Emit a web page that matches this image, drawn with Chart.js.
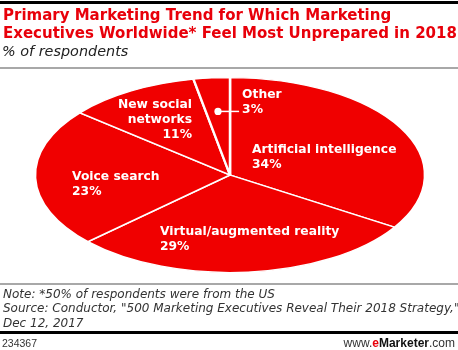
<!DOCTYPE html>
<html>
<head>
<meta charset="utf-8">
<script src="https://cdn.jsdelivr.net/npm/chart.js@4.4.1/dist/chart.umd.min.js"></script>
<style>
    html, body { margin: 0; padding: 0; background: #fff; }
    .frame { position: relative; width: 458px; height: 350px; overflow: hidden; font-family: "DejaVu Sans", sans-serif; }
    .frame canvas { position: absolute; left: 0; top: 0; }
    .bar-top { position: absolute; left: 0; top: 1px; width: 458px; height: 3px; background: #000; }
    .title { position: absolute; left: 3px; top: 7px; font-weight: bold; font-size: 15px; line-height: 17.5px; color: #e8000a; white-space: nowrap; }
    .subtitle { position: absolute; left: 2px; top: 43px; font-style: italic; font-size: 14.4px; line-height: 17px; color: #222; white-space: nowrap; }
    .rule { position: absolute; left: 0; width: 458px; height: 2px; background: #a8a8a8; }
    .note { position: absolute; left: 3px; top: 287px; font-style: italic; font-size: 12px; line-height: 14.3px; color: #333; white-space: nowrap; }
    .bar-bottom { position: absolute; left: 0; top: 331px; width: 458px; height: 3px; background: #000; }
    .chart-id { position: absolute; left: 2px; top: 337px; font-family: "Liberation Sans", sans-serif; font-size: 10.5px; color: #333; }
    .brand { position: absolute; right: 3px; top: 336px; font-family: "Liberation Sans", sans-serif; font-size: 12px; color: #333; }
    .brand b { color: #111; }
    .brand .e { color: #e8000a; }
</style>
</head>
<body>
<div class="frame">
    <canvas id="pieChart" width="458" height="350"></canvas>
    <div class="bar-top"></div>
    <div class="title">Primary Marketing Trend for Which Marketing<br>Executives Worldwide* Feel Most Unprepared in 2018</div>
    <div class="subtitle">% of respondents</div>
    <div class="rule" style="top: 67px;"></div>
    <div class="rule" style="top: 283px;"></div>
    <div class="note">Note: *50% of respondents were from the US<br>Source: Conductor, "500 Marketing Executives Reveal Their 2018 Strategy,"<br>Dec 12, 2017</div>
    <div class="bar-bottom"></div>
    <div class="chart-id">234367</div>
    <div class="brand">www.<b><span class="e">e</span>Marketer</b>.com</div>
</div>
<script>
// chart data
const categories = [['Artificial intelligence'], ['Virtual/augmented reality'], ['Voice search'], ['New social', 'networks'], ['Other']];
const shares = [34, 29, 23, 11, 3];

// label anchors: fraction of the ellipse radii from its centre, plus text alignment
const labelAnchors = [[0.113, -0.256, 'left'], [-0.359, 0.585, 'left'], [-0.81, 0.02, 'left'], [-0.195, -0.718, 'right'], [0.062, -0.82, 'left']];

const RED = '#f00000';
const SQUASH = 0.5; // pie is drawn flattened into an ellipse

// Flatten the pie and draw the white labels on top of it
const ellipsePie = {
    id: 'ellipsePie',
    beforeDatasetsDraw(chart) {
        const arc = chart.getDatasetMeta(0).data[0];
        const ctx = chart.ctx;
        ctx.save();
        ctx.translate(arc.x, arc.y);
        ctx.scale(1, SQUASH);
        ctx.translate(-arc.x, -arc.y);
    },
    afterDatasetsDraw(chart) {
        const ctx = chart.ctx;
        ctx.restore();

        const arcs = chart.getDatasetMeta(0).data;
        const rx = arcs[0].outerRadius;
        const ry = rx * SQUASH;
        const cx = arcs[0].x;
        const cy = arcs[0].y;
        const lineH = 15;

        ctx.save();
        ctx.fillStyle = '#fff';
        ctx.strokeStyle = '#fff';
        ctx.font = 'bold 12.3px "DejaVu Sans"';
        ctx.textBaseline = 'middle';

        arcs.forEach((arc, i) => {
            const [fx, fy, align] = labelAnchors[i];
            const x = cx + fx * rx;
            const y = cy + fy * ry;
            const lines = categories[i].concat([shares[i] + '%']);
            ctx.textAlign = align;
            lines.forEach((t, k) => ctx.fillText(t, x, y + k * lineH));

            // small slice gets a dot and a leader line to its label
            if (shares[i] < 5) {
                const mid = (arc.startAngle + arc.endAngle) / 2;
                const dx = cx + Math.cos(mid) * rx * 0.655;
                const dy = cy + Math.sin(mid) * ry * 0.655;
                ctx.beginPath();
                ctx.arc(dx, dy, 3.6, 0, Math.PI * 2);
                ctx.fill();
                ctx.beginPath();
                ctx.lineWidth = 1.5;
                ctx.moveTo(dx, dy + lineH * 0);
                ctx.lineTo(x - 3, dy);
                ctx.stroke();
            }
        });
        ctx.restore();
    }
};

const pieCtx = document.getElementById('pieChart');
new Chart(pieCtx.getContext('2d'), {
    type: 'pie',
    data: {
        labels: categories,
        datasets: [{
            data: shares,
            backgroundColor: RED,
            borderColor: '#fff',
            borderWidth: 2.5,
            radius: 195,
            clip: false
        }]
    },
    options: {
        responsive: false,
        animation: false,
        devicePixelRatio: 1,
        layout: { padding: { left: 2 } },
        plugins: {
            legend: { display: false },
            tooltip: { enabled: false }
        }
    },
    plugins: [ellipsePie]
});
</script>
</body>
</html>
